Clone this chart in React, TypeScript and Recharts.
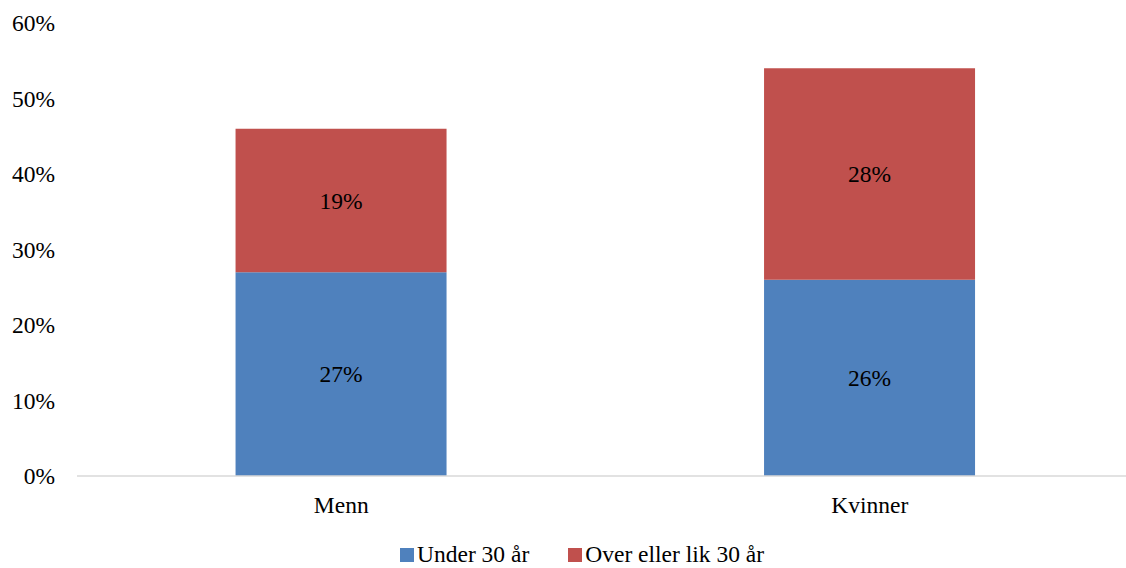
import * as React from 'react';
import { BarChart, Bar, XAxis, YAxis, Legend, LabelList } from 'recharts';

const GROUPS = ['Menn', 'Kvinner'];
const UNDER_30 = [27, 26];
const OVER_30 = [19, 28];
const Y_TICKS = [0, 10, 20, 30, 40, 50, 60];

const SERIES = [
  { key: 'under', name: 'Under 30 år', color: '#4F81BD' },
  { key: 'over', name: 'Over eller lik 30 år', color: '#C0504D' },
];

const FONT = 'Liberation Serif, Times New Roman, serif';

const rows = GROUPS.map((g, i) => ({ group: g, under: UNDER_30[i], over: OVER_30[i] }));

const pct = (v: any) => `${v}%`;

function LegendBox() {
  return (
    <div style={{ display: 'flex', alignItems: 'center', fontFamily: FONT, fontSize: 23.5, color: '#000' }}>
      {SERIES.map((s, i) => (
        <div key={s.key} style={{ display: 'flex', alignItems: 'center', marginLeft: i === 0 ? 0 : 39 }}>
          <span style={{ width: 14, height: 14, background: s.color, display: 'inline-block', marginRight: 3 }} />
          <span>{s.name}</span>
        </div>
      ))}
    </div>
  );
}

export default function App() {
  return (
    <div style={{ width: 1126, height: 568, overflow: 'hidden', position: 'relative', background: '#fff' }}>
      <style>{`body{margin:0}`}</style>
      <BarChart
        width={1134}
        height={568}
        data={rows}
        margin={{ top: 23, right: 0, bottom: 0, left: 0 }}
        barCategoryGap="30%"
        style={{ fontFamily: FONT }}
      >
        <XAxis
          dataKey="group"
          height={92}
          axisLine={{ stroke: '#d9d9d9', strokeWidth: 1.5 }}
          tickLine={false}
          tickSize={0}
          tickMargin={20}
          tick={{ fontFamily: FONT, fontSize: 23.5, fill: '#000' }}
        />
        <YAxis
          width={77}
          domain={[0, 60]}
          ticks={Y_TICKS}
          tickFormatter={pct}
          axisLine={false}
          tickLine={false}
          tickSize={0}
          tickMargin={22}
          tick={{ fontFamily: FONT, fontSize: 23.5, fill: '#000' }}
        />
        <Legend
          layout="horizontal"
          verticalAlign="middle"
          align="center"
          wrapperStyle={{ top: 541, left: 400, width: 'auto', height: 30 }}
          content={() => <LegendBox />}
        />
        {SERIES.map((s) => (
          <Bar key={s.key} dataKey={s.key} name={s.name} stackId="a" fill={s.color} isAnimationActive={false}>
            <LabelList
              dataKey={s.key}
              position="center"
              formatter={pct}
              fill="#000"
              fontFamily={FONT}
              fontSize={23.5}
            />
          </Bar>
        ))}
      </BarChart>
    </div>
  );
}
